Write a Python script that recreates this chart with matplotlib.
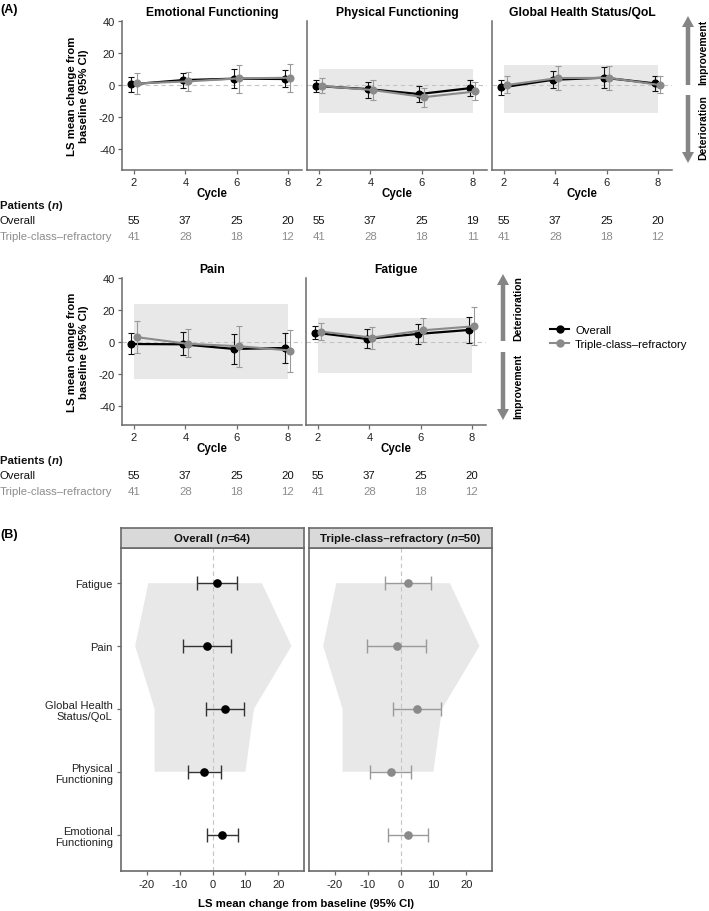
import numpy as np
import matplotlib
matplotlib.use('Agg')
import matplotlib.pyplot as plt
from matplotlib.patches import FancyArrow, Rectangle, Polygon
from matplotlib.lines import Line2D
from matplotlib.offsetbox import TextArea, HPacker, AnnotationBbox

plt.rcParams['font.family'] = ['Liberation Sans', 'DejaVu Sans']
plt.rcParams['axes.unicode_minus'] = False

# ---------------- data ----------------
cycles = [2, 4, 6, 8]
row1_domains = ['Emotional Functioning', 'Physical Functioning', 'Global Health Status/QoL']
row2_domains = ['Pain', 'Fatigue']

overall_mean = {
    'Emotional Functioning': [0.5, 3.1, 4.0, 3.8],
    'Physical Functioning': [-0.6, -2.5, -5.6, -1.9],
    'Global Health Status/QoL': [-1.5, 3.3, 4.6, 1.0],
    'Pain': [-1.3, -1.5, -4.4, -3.8],
    'Fatigue': [5.8, 1.9, 5.0, 7.5],
}
overall_lo = {
    'Emotional Functioning': [-4.5, -2.1, -2.1, -1.5],
    'Physical Functioning': [-4.2, -7.9, -10.6, -6.9],
    'Global Health Status/QoL': [-6.3, -2.1, -2.1, -3.5],
    'Pain': [-7.5, -8.5, -13.9, -13.3],
    'Fatigue': [1.7, -4.0, -1.5, -0.8],
}
overall_hi = {
    'Emotional Functioning': [5.2, 7.3, 10.0, 9.4],
    'Physical Functioning': [3.3, 2.1, -0.8, 2.9],
    'Global Health Status/QoL': [3.1, 9.0, 11.0, 5.6],
    'Pain': [5.4, 6.0, 4.8, 5.8],
    'Fatigue': [9.8, 7.9, 11.0, 15.8],
}
tcr_mean = {
    'Emotional Functioning': [1.0, 2.3, 4.2, 4.6],
    'Physical Functioning': [-0.6, -3.1, -7.5, -4.0],
    'Global Health Status/QoL': [0.0, 4.4, 4.5, 0.0],
    'Pain': [3.0, -1.2, -2.7, -5.4],
    'Fatigue': [6.5, 2.7, 7.3, 9.8],
}
tcr_lo = {
    'Emotional Functioning': [-5.6, -3.8, -5.2, -4.2],
    'Physical Functioning': [-4.8, -9.6, -13.9, -9.4],
    'Global Health Status/QoL': [-5.0, -2.9, -2.9, -5.2],
    'Pain': [-7.0, -9.6, -15.4, -18.9],
    'Fatigue': [1.2, -4.4, -0.2, -1.9],
}
tcr_hi = {
    'Emotional Functioning': [7.3, 8.3, 12.7, 13.1],
    'Physical Functioning': [4.2, 3.1, -2.1, 1.7],
    'Global Health Status/QoL': [5.4, 11.7, 11.7, 5.4],
    'Pain': [13.3, 8.1, 10.2, 7.7],
    'Fatigue': [11.7, 9.6, 15.2, 21.7],
}
n_overall = {
    'Emotional Functioning': [55, 37, 25, 20],
    'Physical Functioning': [55, 37, 25, 19],
    'Global Health Status/QoL': [55, 37, 25, 20],
    'Pain': [55, 37, 25, 20],
    'Fatigue': [55, 37, 25, 20],
}
n_tcr = {
    'Emotional Functioning': [41, 28, 18, 12],
    'Physical Functioning': [41, 28, 18, 11],
    'Global Health Status/QoL': [41, 28, 18, 12],
    'Pain': [41, 28, 18, 12],
    'Fatigue': [41, 28, 18, 12],
}
# clinically meaningful change thresholds (shaded)
mid_lo = {'Physical Functioning': -17.6, 'Global Health Status/QoL': -17.6,
          'Pain': -23.5, 'Fatigue': -19.5}
mid_hi = {'Physical Functioning': 10.0, 'Global Health Status/QoL': 12.6,
          'Pain': 24.0, 'Fatigue': 15.0}

forest_domains = ['Fatigue', 'Pain', 'Global Health Status/QoL', 'Physical Functioning', 'Emotional Functioning']
forest_labels = ['Fatigue', 'Pain', 'Global Health\nStatus/QoL', 'Physical\nFunctioning', 'Emotional\nFunctioning']
forest_ov_mean = [1.4, -1.7, 3.7, -2.5, 2.9]
forest_ov_lo = [-4.6, -8.9, -1.9, -7.4, -1.7]
forest_ov_hi = [7.5, 5.7, 9.5, 2.5, 7.6]
forest_tcr_mean = [2.3, -1.0, 5.0, -3.0, 2.2]
forest_tcr_lo = [-4.7, -10.1, -2.2, -9.3, -3.7]
forest_tcr_hi = [9.3, 7.8, 12.3, 3.3, 8.3]
forest_n = [64, 50]

# ---------------- styles ----------------
BLACK = '#000000'
GRAY = '#8a8a8a'
GRAY_ERR = '#9a9a9a'
SPINE = '#6a6a6a'
SHADE = '#e8e8e8'
ZERO = '#c4c4c4'
TXT_GRAY = '#8c8c8c'

W, H = 709, 912
fig = plt.figure(figsize=(W / 100, H / 100), dpi=100)

bg = fig.add_axes([0, 0, 1, 1], zorder=-5)
bg.set_xlim(0, W)
bg.set_ylim(H, 0)
bg.axis('off')


def px_axes(l, t, r, b):
    return fig.add_axes([l / W, 1 - b / H, (r - l) / W, (b - t) / H])


def rich(target, x, y, parts, fontsize, ha_frac=0.0, coords=None):
    children = [TextArea(s, textprops=dict(fontsize=fontsize, fontweight=w, fontstyle=st, color=c))
                for s, w, st, c in parts]
    box = HPacker(children=children, align='baseline', pad=0, sep=0)
    ab = AnnotationBbox(box, (x, y), xycoords=coords if coords is not None else target.transData,
                        frameon=False, box_alignment=(ha_frac, 0.5), pad=0)
    target.add_artist(ab)


def style_spines(ax, left=True):
    for s in ['top', 'right']:
        ax.spines[s].set_visible(False)
    for s in ['left', 'bottom']:
        ax.spines[s].set_color(SPINE)
        ax.spines[s].set_linewidth(1.1)
    ax.tick_params(colors=SPINE, labelcolor='#222222', labelsize=8, length=3, width=0.9, pad=2)
    if not left:
        ax.tick_params(axis='y', left=False, labelleft=False)


def panel(ax, dom, show_y, ylim):
    ax.set_xlim(1.53, 8.55)
    ax.set_ylim(*ylim)
    ax.set_facecolor('none')
    if dom in mid_lo:
        ax.add_patch(Rectangle((cycles[0], mid_lo[dom]), cycles[-1] - cycles[0],
                               mid_hi[dom] - mid_lo[dom], fc=SHADE, ec='none', zorder=0))
    ax.axhline(0, color=ZERO, ls=(0, (4, 3)), lw=0.8, zorder=1)
    xo = np.array(cycles) - 0.1
    xt = np.array(cycles) + 0.1
    m = np.array(overall_mean[dom]); lo = np.array(overall_lo[dom]); hi = np.array(overall_hi[dom])
    ax.errorbar(xo, m, yerr=[m - lo, hi - m], fmt='none', ecolor='#111111', elinewidth=0.8,
                capsize=2.3, capthick=0.8, zorder=3)
    ax.plot(xo, m, '-o', color=BLACK, lw=1.6, ms=4.8, zorder=4)
    m = np.array(tcr_mean[dom]); lo = np.array(tcr_lo[dom]); hi = np.array(tcr_hi[dom])
    ax.errorbar(xt, m, yerr=[m - lo, hi - m], fmt='none', ecolor=GRAY_ERR, elinewidth=0.8,
                capsize=2.3, capthick=0.8, zorder=5)
    ax.plot(xt, m, '-o', color=GRAY, lw=1.5, ms=4.8, zorder=6)
    ax.set_xticks(cycles)
    ax.set_yticks([-40, -20, 0, 20, 40])
    style_spines(ax, left=show_y)
    ax.set_title(dom, fontsize=8.7, fontweight='bold', pad=4)
    ax.set_xlabel('Cycle', fontsize=8.3, fontweight='bold', labelpad=0)


# ---------------- Panel A row 1 ----------------
row1_boxes = [(122, 22, 302, 171), (307, 22, 487, 171), (492, 22, 672, 171)]
row1_axes = []
for i, (dom, bx) in enumerate(zip(row1_domains, row1_boxes)):
    ax = px_axes(*bx)
    panel(ax, dom, i == 0, (-53, 40))
    row1_axes.append(ax)

row2_boxes = [(122, 279, 302, 426), (306, 279, 486, 426)]
row2_axes = []
for i, (dom, bx) in enumerate(zip(row2_domains, row2_boxes)):
    ax = px_axes(*bx)
    panel(ax, dom, i == 0, (-52, 40))
    row2_axes.append(ax)

# y labels
for yc in [96.5, 352.5]:
    bg.text(78, yc, 'LS mean change from\nbaseline (95% CI)', rotation=90, ha='center', va='center',
            fontsize=8.2, fontweight='bold', linespacing=1.15)

# panel letters
bg.text(0, 10, '(A)', fontsize=9, fontweight='bold', ha='left', va='center')
bg.text(0, 535, '(B)', fontsize=9, fontweight='bold', ha='left', va='center')

fig.canvas.draw()


def table(axes, doms, y0):
    rich(bg, 0, y0, [('Patients (', 'bold', 'normal', '#111111'), ('n', 'bold', 'italic', '#111111'),
                     (')', 'bold', 'normal', '#111111')], 8.2)
    bg.text(0, y0 + 15, 'Overall', fontsize=8.2, ha='left', va='center', color='#111111')
    bg.text(0, y0 + 31, 'Triple-class\u2013refractory', fontsize=8.2, ha='left', va='center', color=TXT_GRAY)
    for ax, dom in zip(axes, doms):
        for c, no, nt in zip(cycles, n_overall[dom], n_tcr[dom]):
            xpix = ax.transData.transform((c, 0))[0]
            bg.text(xpix, y0 + 15, str(no), fontsize=8.2, ha='center', va='center', color='#111111')
            bg.text(xpix, y0 + 31, str(nt), fontsize=8.2, ha='center', va='center', color=TXT_GRAY)


table(row1_axes, row1_domains, 206)
table(row2_axes, row2_domains, 461)

# arrows
ARW = '#858585'


def arrow(x, y0, y1):
    bg.add_patch(FancyArrow(x, y0, 0, y1 - y0, width=4.5, head_width=12, head_length=11,
                            length_includes_head=True, fc=ARW, ec='none'))


arrow(688, 86, 17)
arrow(688, 96, 164)
bg.text(703, 52, 'Improvement', rotation=90, ha='center', va='center', fontsize=7.5, fontweight='bold')
bg.text(703, 128, 'Deterioration', rotation=90, ha='center', va='center', fontsize=7.5, fontweight='bold')
arrow(503, 342, 275)
arrow(503, 353, 421)
bg.text(518, 309, 'Deterioration', rotation=90, ha='center', va='center', fontsize=7.5, fontweight='bold')
bg.text(518, 386, 'Improvement', rotation=90, ha='center', va='center', fontsize=7.5, fontweight='bold')

# legend
handles = [Line2D([], [], color=BLACK, marker='o', lw=1.5, ms=5),
           Line2D([], [], color=GRAY, marker='o', lw=1.5, ms=5)]
fig.legend(handles, ['Overall', 'Triple-class\u2013refractory'], loc='center left',
           bbox_to_anchor=(550 / W, 1 - 338 / H), frameon=False, fontsize=8.2,
           handlelength=1.7, handletextpad=0.5, labelspacing=0.35, borderpad=0, borderaxespad=0)

# ---------------- Panel B forest ----------------
forest_boxes = [(121, 549, 304, 872), (309, 549, 492, 872)]
header_boxes = [(121, 529, 304, 549), (309, 529, 492, 549)]
ypos = np.arange(len(forest_domains), 0, -1)
forest_sets = [
    (forest_ov_mean, forest_ov_lo, forest_ov_hi, BLACK, '#333333', 'Overall'),
    (forest_tcr_mean, forest_tcr_lo, forest_tcr_hi, GRAY, GRAY_ERR, 'Triple-class\u2013refractory'),
]
for k, (bx, hb, (m, lo, hi, col, ecol, name)) in enumerate(zip(forest_boxes, header_boxes, forest_sets)):
    ax = px_axes(*bx)
    ax.set_xlim(-27.8, 27.8)
    ax.set_ylim(0.42, 5.56)
    verts = []
    for d, y in zip(forest_domains, ypos):
        if d in mid_hi:
            verts.append((mid_hi[d], y))
    for d, y in reversed(list(zip(forest_domains, ypos))):
        if d in mid_lo:
            verts.append((mid_lo[d], y))
    ax.add_patch(Polygon(verts, closed=True, fc=SHADE, ec='none', zorder=0))
    ax.axvline(0, color=ZERO, ls=(0, (4, 3)), lw=0.8, zorder=1)
    m = np.array(m); lo = np.array(lo); hi = np.array(hi)
    ax.errorbar(m, ypos, xerr=[m - lo, hi - m], fmt='o', color=col, ecolor=ecol, ms=5.2,
                elinewidth=1.0, capsize=5, capthick=1.0, zorder=3)
    for s in ax.spines.values():
        s.set_color(SPINE)
        s.set_linewidth(1.2)
    ax.set_xticks([-20, -10, 0, 10, 20])
    ax.tick_params(colors=SPINE, labelcolor='#222222', labelsize=8, length=3, width=0.9, pad=3)
    if k == 0:
        ax.set_yticks(ypos)
        ax.set_yticklabels(forest_labels, fontsize=8, linespacing=1.2)
    else:
        ax.set_yticks([])
    hax = px_axes(*hb)
    hax.set_facecolor('#d9d9d9')
    hax.set_xticks([]); hax.set_yticks([])
    for s in hax.spines.values():
        s.set_color(SPINE)
        s.set_linewidth(1.2)
    rich(hax, 0.5, 0.5, [(name + ' (', 'bold', 'normal', '#111111'), ('n', 'bold', 'italic', '#111111'),
                         ('=%d)' % forest_n[k], 'bold', 'normal', '#111111')], 8.2, ha_frac=0.5,
         coords='axes fraction')

bg.text(306, 904, 'LS mean change from baseline (95% CI)', ha='center', va='center',
        fontsize=8.2, fontweight='bold')

fig.savefig('out.png', dpi=100)
